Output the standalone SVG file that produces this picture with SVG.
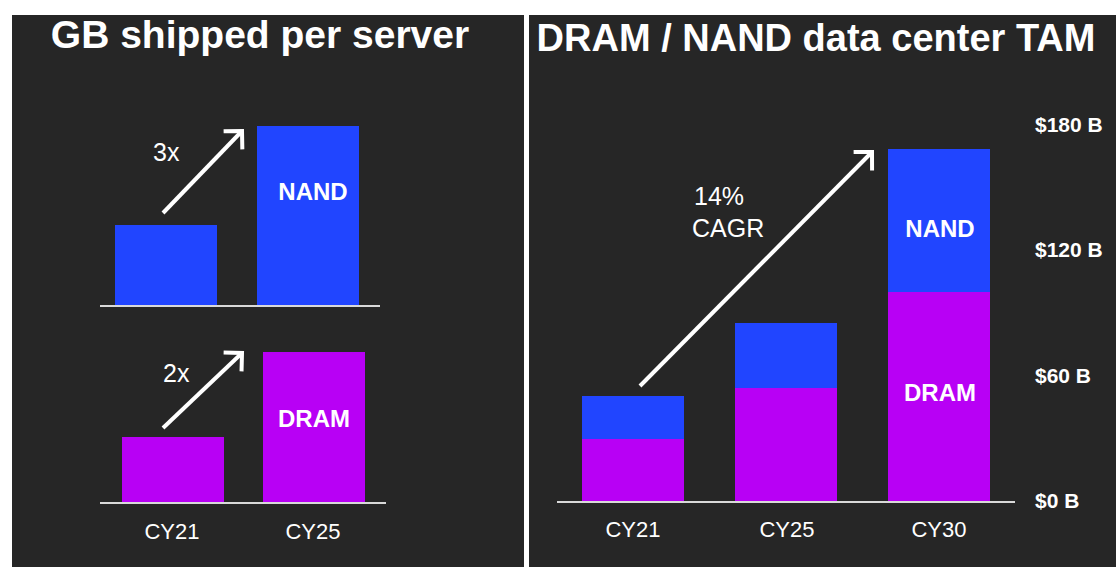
<svg xmlns="http://www.w3.org/2000/svg" width="1116" height="567" viewBox="0 0 1116 567">
<style>
.panel{fill:#262626}
.title{font-family:"Liberation Sans",Arial,sans-serif;font-weight:bold;font-size:38px;fill:#ffffff}
.lbl{font-family:"Liberation Sans",Arial,sans-serif;font-weight:bold;font-size:24px;fill:#ffffff;text-anchor:middle}
.ax{font-family:"Liberation Sans",Arial,sans-serif;font-size:22px;fill:#ffffff;text-anchor:middle}
.note{font-family:"Liberation Sans",Arial,sans-serif;font-size:25px;fill:#ffffff}
.yv{font-family:"Liberation Sans",Arial,sans-serif;font-weight:bold;font-size:21px;fill:#ffffff}
.nand{fill:#2145ff}
.dram{fill:#b800f5}
.base{stroke:#d9d9d9;stroke-width:2}
.arr{stroke:#ffffff;stroke-width:4;fill:none;marker-end:url(#head)}
</style>
<defs>
<marker id="head" markerUnits="userSpaceOnUse" orient="auto" markerWidth="40" markerHeight="40" viewBox="-20 -20 40 40" refX="0" refY="0" overflow="visible">
<path d="M-13,-13 L0,0 L-13,13" stroke="#ffffff" stroke-width="4" fill="none"/>
</marker>
</defs>
<rect width="1116" height="567" fill="#ffffff"/>
<rect class="panel" x="12" y="15" width="512" height="552"/>
<rect class="panel" x="529" y="15" width="587" height="552"/>
<text class="title" x="260" y="48" text-anchor="middle" style="font-size:39px">GB shipped per server</text>
<text class="title" x="816" y="51" text-anchor="middle">DRAM / NAND data center TAM</text>
<g id="gb-nand">
<rect class="nand" x="115" y="225" width="102" height="81"/>
<rect class="nand" x="257" y="126" width="102" height="180"/>
<text class="lbl" x="313" y="200">NAND</text>
</g>
<g id="gb-dram">
<rect class="dram" x="122" y="437" width="102" height="66"/>
<rect class="dram" x="263" y="352" width="102" height="151"/>
<text class="lbl" x="314" y="427">DRAM</text>
</g>
<g id="tam-cy21">
<rect class="nand" x="582" y="396" width="102" height="43"/>
<rect class="dram" x="582" y="439" width="102" height="63"/>
</g>
<g id="tam-cy25">
<rect class="nand" x="735" y="323" width="102" height="65"/>
<rect class="dram" x="735" y="388" width="102" height="114"/>
</g>
<g id="tam-cy30">
<rect class="nand" x="888" y="149" width="102" height="143"/>
<rect class="dram" x="888" y="292" width="102" height="210"/>
<text class="lbl" x="940" y="237">NAND</text>
<text class="lbl" x="940" y="401">DRAM</text>
</g>
<g id="axes">
<line class="base" x1="100" y1="306" x2="380" y2="306"/>
<line class="base" x1="100" y1="503" x2="386" y2="503"/>
<line class="base" x1="557" y1="502" x2="1015" y2="502"/>
<text class="ax" x="172" y="539">CY21</text>
<text class="ax" x="313" y="539">CY25</text>
<text class="ax" x="633" y="537">CY21</text>
<text class="ax" x="787" y="537">CY25</text>
<text class="ax" x="939" y="537">CY30</text>
<text class="yv" x="1035" y="132">$180 B</text>
<text class="yv" x="1035" y="257">$120 B</text>
<text class="yv" x="1035" y="383">$60 B</text>
<text class="yv" x="1035" y="508">$0 B</text>
</g>
<g id="connectors">
<line class="arr" x1="163" y1="213" x2="242" y2="131"/>
<line class="arr" x1="163" y1="428" x2="242" y2="353"/>
<line class="arr" x1="640" y1="386" x2="872" y2="152"/>
</g>
<text class="note" x="153" y="161">3x</text>
<text class="note" x="163" y="382">2x</text>
<text class="note" x="694" y="205">14%</text>
<text class="note" x="692" y="237">CAGR</text>
</svg>
